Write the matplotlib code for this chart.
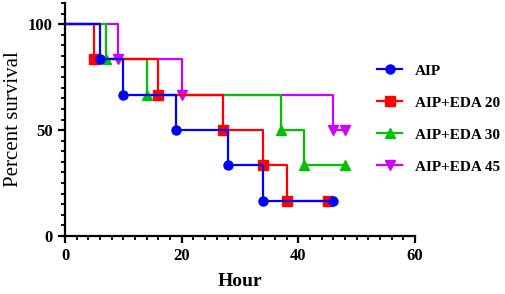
import matplotlib
matplotlib.use("Agg")
import matplotlib.pyplot as plt
from matplotlib.ticker import MultipleLocator

plt.rcParams['font.family'] = ['Liberation Serif', 'DejaVu Serif']

# Kaplan-Meier step data (hours, percent survival)
aip_t = [0, 6, 10, 19, 28, 34, 46]
aip_s = [100, 83.33, 66.67, 50, 33.33, 16.67, 16.67]
eda20_t = [0, 5, 16, 27, 34, 38, 45]
eda20_s = [100, 83.33, 66.67, 50, 33.33, 16.67, 16.67]
eda30_t = [0, 7, 14, 37, 41, 48]
eda30_s = [100, 83.33, 66.67, 50, 33.33, 33.33]
eda45_t = [0, 9, 20, 46, 48]
eda45_s = [100, 83.33, 66.67, 50, 50]

labels = ["AIP", "AIP+EDA 20", "AIP+EDA 30", "AIP+EDA 45"]
series = [(aip_t, aip_s), (eda20_t, eda20_s), (eda30_t, eda30_s), (eda45_t, eda45_s)]
colors = ["#0000FF", "#FF0000", "#00C000", "#CC00FF"]
markers = ["o", "s", "^", "v"]

fig = plt.figure(figsize=(5.05, 2.94), dpi=100)
ax = fig.add_axes([65/505, 1-236/294, 350/505, 233/294])

handles = [None]*4
for i in [3, 2, 1, 0]:
    t, s = series[i]
    ax.step(t, s, where='post', color=colors[i], lw=1.6, zorder=2+(3-i))
    ax.plot(t[1:], s[1:], ls='none', marker=markers[i], color=colors[i],
            ms=6.5, zorder=2+(3-i), clip_on=False)
    h, = ax.plot([], [], color=colors[i], lw=1.6, marker=markers[i], ms=6.5)
    handles[i] = h

ax.set_xlim(0, 60)
ax.set_ylim(0, 110)
ax.set_xticks([0, 20, 40, 60])
ax.set_yticks([0, 50, 100])
ax.xaxis.set_minor_locator(MultipleLocator(2))
ax.yaxis.set_minor_locator(MultipleLocator(5))
for sp in ['top', 'right']:
    ax.spines[sp].set_visible(False)
for sp in ['left', 'bottom']:
    ax.spines[sp].set_linewidth(1.6)
ax.tick_params(which='major', direction='out', length=5, width=1.6, pad=4,
               labelsize=12)
ax.tick_params(which='minor', direction='out', length=3, width=1.3)
for lab in ax.get_xticklabels() + ax.get_yticklabels():
    lab.set_fontweight('bold')

ax.set_xlabel("Hour", fontsize=14, fontweight='bold', labelpad=6)
ax.set_ylabel("Percent survival", fontsize=15, labelpad=3)

fig.legend(handles, labels, loc='upper left', bbox_to_anchor=(377/505, 1-64/294),
           frameon=False, prop={'size': 11, 'weight': 'bold'}, borderpad=0,
           borderaxespad=0, handlelength=1.65, handletextpad=0.85,
           labelspacing=1.2)

fig.savefig("out.png", dpi=100)
